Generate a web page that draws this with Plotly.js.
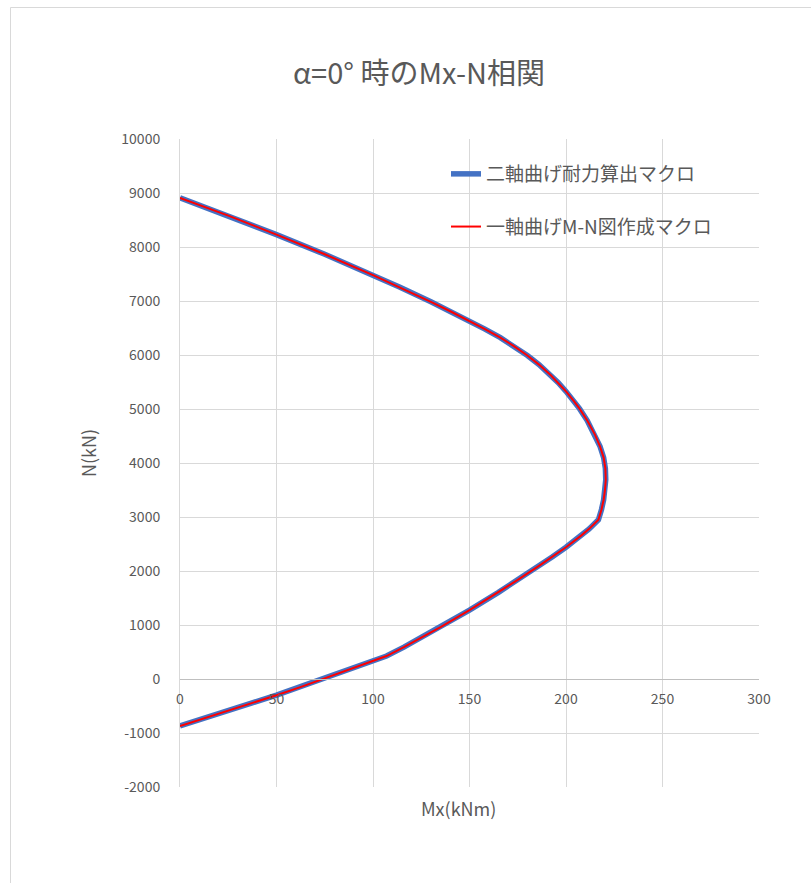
<!DOCTYPE html>
<html>
<head>
<meta charset="utf-8">
<script src="https://cdn.plot.ly/plotly-3.0.1.min.js"></script>
<style>
html,body{margin:0;padding:0;background:#fff;}
#chart{width:811px;height:883px;}
</style>
</head>
<body>
<div id="chart"></div>
<script>
// Data (Mx in kNm, N in kN)
const mxBiaxial = [0, 25, 50, 75, 100, 114, 130, 140, 150, 158, 166, 173, 180, 186, 192, 196, 200, 204, 207, 211, 215, 217.6, 219.5, 220.4, 220.6, 220.2, 219.5, 218.4, 216.8, 212, 208, 200, 193, 186, 175, 165, 150, 135, 125, 116, 107, 100, 88, 75, 62, 50, 37, 25, 12, 0];
const nBiaxial  = [8910, 8580, 8230, 7865, 7480, 7255, 6985, 6810, 6630, 6480, 6320, 6165, 5990, 5822, 5630, 5486, 5326, 5150, 5006, 4786, 4526, 4310, 4100, 3900, 3690, 3500, 3320, 3140, 2950, 2780, 2660, 2440, 2265, 2095, 1835, 1605, 1275, 960, 760, 590, 425, 335, 170, 0, -155, -300, -448, -588, -735, -870];
const mxUniaxial = mxBiaxial.slice();
const nUniaxial  = nBiaxial.slice();
const seriesNames = ['二軸曲げ耐力算出マクロ', '一軸曲げM-N図作成マクロ'];
const chartTitle = 'α=0° 時のMx-N相関';
const xTitle = 'Mx(kNm)';
const yTitle = 'N(kN)';
const xTicks = [0, 50, 100, 150, 200, 250, 300];
const yTicks = [-2000, -1000, 0, 1000, 2000, 3000, 4000, 5000, 6000, 7000, 8000, 9000, 10000];

const FONT = '"Noto Sans CJK JP", "Noto Sans", sans-serif';
const TXT = '#595959';
const GRID = '#D9D9D9';

const W = 811, H = 883;
const L = 180, R = 52, T = 139, B = 96;
const pw = W - L - R, ph = H - T - B;
function px2x(p){ return (p - L) / pw; }
function py2y(p){ return (H - B - p) / ph; }

const traces = [
  {x: mxBiaxial, y: nBiaxial, type: 'scatter', mode: 'lines', name: seriesNames[0],
   legendgroup: 'a', line: {color: '#4472C4', width: 5.5}},
  {x: mxUniaxial, y: nUniaxial, type: 'scatter', mode: 'lines', name: seriesNames[1],
   legendgroup: 'b', line: {color: '#FF0000', width: 2}}
];

const layout = {
  width: W, height: H,
  margin: {l: L, r: R, t: T, b: B},
  paper_bgcolor: '#ffffff', plot_bgcolor: '#ffffff',
  font: {family: FONT, color: TXT, size: 14},
  title: {text: chartTitle, x: 419 / W, xanchor: 'center', y: 1 - 74 / H, yanchor: 'middle',
          xref: 'container', yref: 'container', font: {family: FONT, size: 29, color: TXT}},
  showlegend: true,
  legend: {x: px2x(446), xanchor: 'left', y: py2y(155), yanchor: 'top',
           bgcolor: 'rgba(0,0,0,0)', font: {family: FONT, size: 19, color: TXT},
           traceorder: 'grouped', tracegroupgap: 25},
  xaxis: {range: [0, 300], tickvals: xTicks, ticktext: xTicks.map(String),
          anchor: 'free', position: 2000 / 12000,
          showgrid: true, gridcolor: GRID, gridwidth: 1,
          showline: true, linecolor: '#BFBFBF', linewidth: 1,
          zeroline: false, ticks: '', ticklabelstandoff: 7,
          tickfont: {family: FONT, size: 14, color: TXT}},
  yaxis: {range: [-2000, 10000], tickvals: yTicks, ticktext: yTicks.map(String), domain: [0, 1],
          showgrid: true, gridcolor: GRID, gridwidth: 1,
          showline: true, linecolor: GRID, linewidth: 1,
          zeroline: false, ticks: '', ticklabelstandoff: 16,
          tickfont: {family: FONT, size: 14, color: TXT}},
  annotations: [
    {text: xTitle, xref: 'paper', yref: 'paper', x: px2x(458), y: py2y(808),
     xanchor: 'center', yanchor: 'middle', showarrow: false,
     font: {family: FONT, size: 18, color: TXT}},
    {text: yTitle, xref: 'paper', yref: 'paper', x: px2x(88), y: py2y(453),
     xanchor: 'center', yanchor: 'middle', showarrow: false, textangle: -90,
     font: {family: FONT, size: 18, color: TXT}}
  ],
  shapes: [
    {type: 'rect', xref: 'paper', yref: 'paper', x0: px2x(10.5), x1: px2x(820), y0: py2y(900), y1: py2y(7.5),
     line: {color: GRID, width: 1}, fillcolor: 'rgba(0,0,0,0)', layer: 'below'}
  ]
};

Plotly.newPlot('chart', traces, layout, {displayModeBar: false, staticPlot: true});
</script>
</body>
</html>
